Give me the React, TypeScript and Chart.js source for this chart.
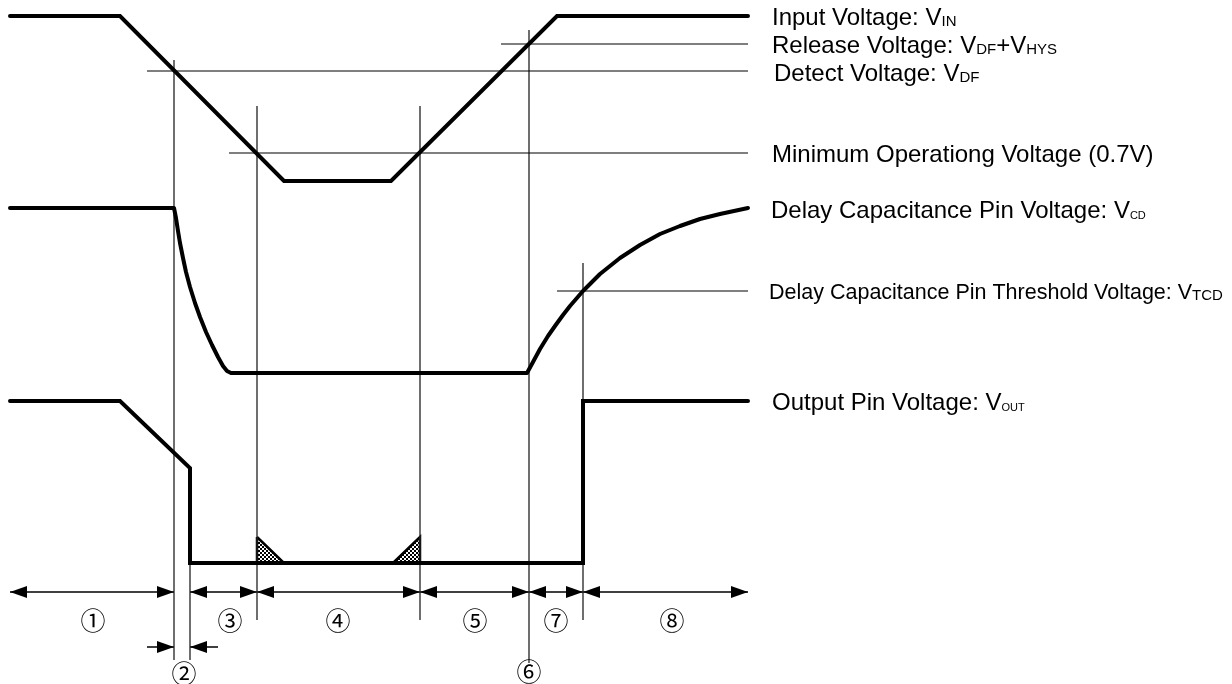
import React, { useEffect, useRef } from "react";
import { Chart, registerables } from "chart.js";

Chart.register(...registerables);

const W = 1232;
const H = 684;

// Horizontal: time (arbitrary units). Vertical: drawing level (arbitrary units, downward).
const vinTime = [10, 120, 284, 391, 557, 748];
const vinLevel = [16, 16, 181, 181, 16, 16];

const vcdTime = [10, 174, 176, 178, 180, 183, 186, 190, 195, 200, 206, 212, 218, 223, 227, 231, 527, 533, 540, 548, 555, 563, 570, 583, 600, 620, 640, 660, 680, 700, 720, 748];
const vcdLevel = [208, 208, 218, 231, 243, 258, 272, 287, 303, 317, 332, 345, 357, 366, 371, 373, 373, 362, 349, 336, 326, 315, 306, 291, 274, 258, 245, 234, 226, 219, 214, 208];

const voutTime = [10, 120, 190, 190, 583, 583, 748];
const voutLevel = [401, 401, 468, 563, 563, 401, 401];

// reference levels: release, detect, minimum operating, delay threshold
const refLevel = [44, 71, 153, 291];
const refStart = [501, 147, 229, 557];
const refEnd = [748, 748, 748, 748];

// vertical timing markers
const markerTime = [174, 190, 257, 420, 529, 583];
const markerTop = [60, 563, 106, 106, 30, 263];
const markerBottom = [660, 660, 620, 620, 663, 620];

// hatched (undefined output) regions
const hatchATime = [257, 257, 284, 257];
const hatchALevel = [537, 563, 563, 537];
const hatchBTime = [393, 420, 420, 393];
const hatchBLevel = [563, 537, 563, 563];

// period dimension arrows
const spanStart = [10, 190, 257, 420, 529, 583];
const spanEnd = [174, 257, 420, 529, 583, 748];
const spanLevel = 592;

// period 2 pointers
const pointerFrom = [147, 218];
const pointerTo = [174, 190];
const pointerLevel = 647;

const periodText = ["①", "②", "③", "④", "⑤", "⑥", "⑦", "⑧"];
const periodTime = [93, 184, 230, 338, 475, 529, 556, 672];
const periodLevel = [620, 673, 620, 620, 620, 671, 620, 620];

type Run = [string, boolean];
const labelRuns: Run[][] = [
  [["Input Voltage: V", false], ["IN", true]],
  [["Release Voltage: V", false], ["DF", true], ["+V", false], ["HYS", true]],
  [["Detect Voltage: V", false], ["DF", true]],
  [["Minimum Operationg Voltage (0.7V)", false]],
  [["Delay Capacitance Pin Voltage: V", false], ["CD", true]],
  [["Delay Capacitance Pin Threshold Voltage: V", false], ["TCD", true]],
  [["Output Pin Voltage: V", false], ["OUT", true]],
];
const labelTime = [772, 772, 774, 772, 771, 769, 772];
const labelLevel = [16, 44, 72, 153, 209, 291, 401];
const labelSize = [24, 24, 24, 24, 24, 21.5, 24];
const subSize = [15, 15, 15, 15, 11, 15, 11];

const FONT = '"Liberation Sans", Arial, sans-serif';

function pts(xs: number[], ys: number[]) {
  return xs.map((x, i) => ({ x, y: ys[i] }));
}

const overlay = {
  id: "overlay",
  afterDatasetsDraw(chart: any) {
    const ctx: CanvasRenderingContext2D = chart.ctx;
    const xs = chart.scales.x;
    const ys = chart.scales.y;
    ctx.save();
    ctx.fillStyle = "#000";
    const head = (tipT: number, lvl: number, dir: number) => {
      const px = xs.getPixelForValue(tipT);
      const py = ys.getPixelForValue(lvl);
      ctx.beginPath();
      ctx.moveTo(px, py);
      ctx.lineTo(px - dir * 17, py - 6);
      ctx.lineTo(px - dir * 17, py + 6);
      ctx.closePath();
      ctx.fill();
    };
    spanStart.forEach((s, i) => {
      head(s, spanLevel, -1);
      head(spanEnd[i], spanLevel, 1);
    });
    pointerFrom.forEach((f, i) => {
      const to = pointerTo[i];
      head(to, pointerLevel, to > f ? 1 : -1);
    });

    // period labels
    ctx.textAlign = "center";
    ctx.textBaseline = "middle";
    ctx.font = '25px "Noto Sans CJK JP", "DejaVu Sans", sans-serif';
    periodText.forEach((t, i) => {
      ctx.fillText(t, xs.getPixelForValue(periodTime[i]), ys.getPixelForValue(periodLevel[i]));
    });

    // signal labels
    ctx.textAlign = "left";
    ctx.textBaseline = "alphabetic";
    labelRuns.forEach((runs, i) => {
      let x = xs.getPixelForValue(labelTime[i]);
      const base = ys.getPixelForValue(labelLevel[i]) + labelSize[i] * 0.36;
      runs.forEach(([text, sub]) => {
        const size = sub ? subSize[i] : labelSize[i];
        ctx.font = `${size}px ${FONT}`;
        ctx.fillText(text, x, base + (sub ? 1 : 0));
        x += ctx.measureText(text).width;
      });
    });
    ctx.restore();
  },
};

export default function App() {
  const ref = useRef<HTMLCanvasElement | null>(null);
  useEffect(() => {
    const canvas = ref.current;
    if (!canvas) return;
    const ctx = canvas.getContext("2d")!;

    const pc = document.createElement("canvas");
    pc.width = 4;
    pc.height = 4;
    const pctx = pc.getContext("2d")!;
    pctx.fillStyle = "#fff";
    pctx.fillRect(0, 0, 4, 4);
    pctx.fillStyle = "#000";
    pctx.fillRect(0, 0, 2, 2);
    pctx.fillRect(2, 2, 2, 2);
    const pattern = ctx.createPattern(pc, "repeat") as any;

    const base = {
      pointRadius: 0,
      tension: 0,
      fill: false,
      borderColor: "#000",
      borderJoinStyle: "miter" as const,
      borderCapStyle: "butt" as const,
    };

    const datasets: any[] = [];
    datasets.push({ ...base, data: pts(vinTime, vinLevel), borderWidth: 4, borderCapStyle: "round" });
    datasets.push({ ...base, data: pts(vcdTime, vcdLevel), borderWidth: 4, borderJoinStyle: "round", borderCapStyle: "round" });
    datasets.push({ ...base, data: pts(voutTime, voutLevel), borderWidth: 4, borderCapStyle: "round" });
    refLevel.forEach((lvl, i) => {
      datasets.push({ ...base, data: [{ x: refStart[i], y: lvl }, { x: refEnd[i], y: lvl }], borderWidth: 1.2 });
    });
    markerTime.forEach((t, i) => {
      datasets.push({ ...base, data: [{ x: t, y: markerTop[i] }, { x: t, y: markerBottom[i] }], borderWidth: 1.3, borderColor: "#222" });
    });
    spanStart.forEach((s, i) => {
      datasets.push({ ...base, data: [{ x: s, y: spanLevel }, { x: spanEnd[i], y: spanLevel }], borderWidth: 1.5 });
    });
    pointerFrom.forEach((f, i) => {
      datasets.push({ ...base, data: [{ x: f, y: pointerLevel }, { x: pointerTo[i], y: pointerLevel }], borderWidth: 1.5 });
    });
    datasets.push({ ...base, data: pts(hatchATime, hatchALevel), borderWidth: 2.5, fill: "shape", backgroundColor: pattern });
    datasets.push({ ...base, data: pts(hatchBTime, hatchBLevel), borderWidth: 2.5, fill: "shape", backgroundColor: pattern });

    const chart = new Chart(canvas, {
      type: "line",
      data: { datasets },
      options: {
        responsive: false,
        animation: false,
        events: [],
        layout: { padding: 0 },
        plugins: { legend: { display: false }, tooltip: { enabled: false } },
        scales: {
          x: { type: "linear", min: 0, max: W, display: false },
          y: { type: "linear", min: 0, max: H, reverse: true, display: false },
        },
      },
      plugins: [overlay],
    } as any);
    return () => chart.destroy();
  }, []);

  return (
    <div style={{ position: "absolute", left: 0, top: 0, width: W, height: H, background: "#fff" }}>
      <canvas ref={ref} width={W} height={H} style={{ display: "block" }} />
    </div>
  );
}
